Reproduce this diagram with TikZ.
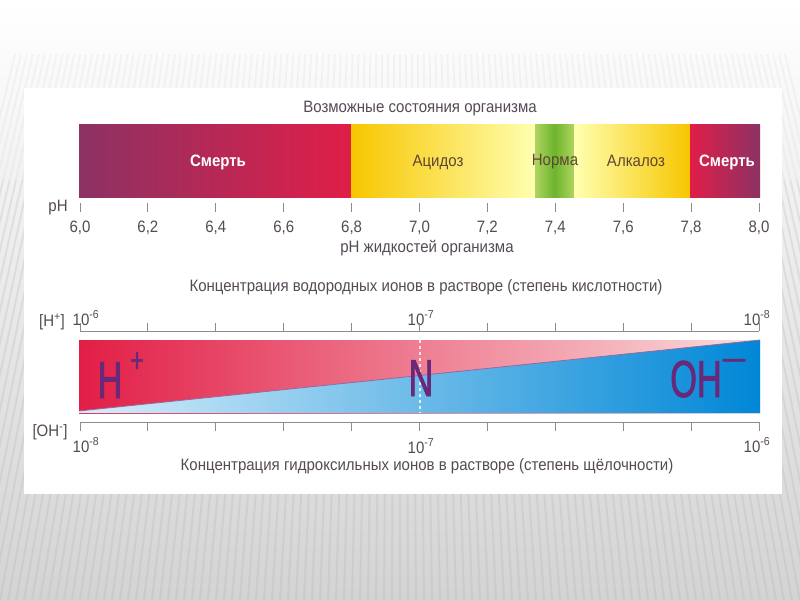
\documentclass[tikz,border=0pt]{standalone}
\usepackage{fontspec}
\setmainfont{Liberation Sans}[FakeStretch=0.91]
\newfontfamily\bigfont{Liberation Sans}[FakeStretch=0.66, FakeBold=1.5]
\usetikzlibrary{calc}

\definecolor{deathpurple}{RGB}{140,50,100}
\definecolor{deathred}{RGB}{224,30,72}
\definecolor{acidyellow}{RGB}{247,198,0}
\definecolor{paleyellow}{RGB}{255,255,176}
\definecolor{normgreen}{RGB}{110,180,45}
\definecolor{normedge}{RGB}{175,212,95}
\definecolor{hred}{RGB}{226,30,70}
\definecolor{hpink}{RGB}{250,222,222}
\definecolor{ohpale}{RGB}{215,238,250}
\definecolor{ohblue}{RGB}{0,135,215}
\definecolor{ionpurple}{RGB}{105,40,120}
\definecolor{labelgrey}{RGB}{85,75,85}
\definecolor{tickgrey}{RGB}{140,140,140}
\definecolor{zonebrown}{RGB}{95,70,50}

\tikzset{
  stripe/.style={draw=black!30, line width=2pt, opacity=0.25},
  tick/.style={draw=tickgrey, line width=0.9pt},
  zone/.style={text=zonebrown, anchor=base},
  death/.style={text=white, anchor=base, font=\fontsize{16.5}{17}\selectfont\bfseries},
  ion/.style={text=ionpurple, font=\bigfont\fontsize{52}{52}\selectfont, anchor=base},
  ionsign/.style={text=ionpurple, font=\bigfont\fontsize{34}{34}\selectfont},
  divider/.style={draw=ionpurple!70, line width=0.8pt}
}

\begin{document}
\begin{tikzpicture}[x=1pt, y=-1pt, every node/.style={font=\fontsize{16.5}{17}\selectfont, text=labelgrey, inner sep=0pt}]
  \useasboundingbox (0,0) rectangle (800,600);
  % slide background
  \shade[top color=white, bottom color=black!17] (0,0) rectangle (800,600);
  \foreach \x in {-120,-112,...,920} {
    \draw[stripe, opacity=0.1] ($(\x,600)!0.2!(400,-1500)$) -- ($(\x,600)!0.26!(400,-1500)$);
    \draw[stripe] (\x,600) -- ($(\x,600)!0.2!(400,-1500)$);
  }
  \fill[white] (24,88) rectangle (782,494);

  % states of the organism
  \node (states) at (420,109) {Возможные состояния организма};
  \shade[left color=deathpurple, right color=deathred] (79,124) rectangle (351,197);
  \shade[left color=acidyellow, right color=paleyellow] (351,124) rectangle (535,197);
  \shade[left color=normedge, right color=normedge, middle color=normgreen] (535,124) rectangle (574,197);
  \shade[left color=paleyellow, right color=acidyellow] (574,124) rectangle (690,197);
  \shade[left color=deathred, right color=deathpurple] (690,124) rectangle (760,197);
  \node[death] (deathlow) at (218,166) {Смерть};
  \node[zone] (acidosis) at (438,166) {Ацидоз};
  \node[zone] (norm) at (555,165) {Норма};
  \node[zone] (alkalosis) at (636,166) {Алкалоз};
  \node[death] (deathhigh) at (727,166) {Смерть};

  % pH scale
  \node (phmark) at (58,208) {pH};
  \foreach \a/\b [count=\i from 0] in {6/0,6/2,6/4,6/6,6/8,7/0,7/2,7/4,7/6,7/8,8/0} {
    \draw[tick] (80+67.9*\i,203) -- ++(0,9);
    \node (ph\i) at (80+67.9*\i,228) {\a,\b};
  }
  \node (phtitle) at (427,248) {pH жидкостей организма};

  % hydrogen ions
  \node (htitle) at (426,287) {Концентрация водородных ионов в растворе (степень кислотности)};
  \node (hmark) at (52,322) {[H\textsuperscript{+}]};
  \node[anchor=base] (hsix) at (86,325) {10\textsuperscript{-6}};
  \node[anchor=base] (hseven) at (421,325) {10\textsuperscript{-7}};
  \node[anchor=base] (height) at (757,325) {10\textsuperscript{-8}};
  \draw[tick] (80,331) -- (759,331);
  \foreach \i in {0,...,10}
    \draw[tick] (80+67.9*\i,331) -- ++(0,-8);

  % H+ / OH- balance
  \shade[left color=hred, right color=hpink] (79,340) rectangle (760,413);
  \shade[left color=ohpale, right color=ohblue] (79,411) -- (760,340) -- (760,413) -- (79,413) -- cycle;
  \draw[divider] (79,411) -- (760,340);
  \draw[white, dashed, line width=1.2pt, opacity=0.8] (420,340) -- (420,413);
  \node[ion] (hion) at (110,398) {H};
  \node[ionsign] (hplus) at (137,362) {+};
  \node[ion] (neutral) at (421,396) {N};
  \node[ion] (ohion) at (696,397) {OH};
  \node[ionsign] (ohminus) at (734,364) {—};

  % hydroxyl ions
  \draw[tick] (80,422) -- (759,422);
  \foreach \i in {0,...,10}
    \draw[tick] (80+67.9*\i,422) -- ++(0,9);
  \node (ohmark) at (50,432) {[OH\textsuperscript{-}]};
  \node[anchor=base] (ohsix) at (86,452) {10\textsuperscript{-8}};
  \node[anchor=base] (ohseven) at (421,453) {10\textsuperscript{-7}};
  \node[anchor=base] (oheight) at (757,452) {10\textsuperscript{-6}};
  \node (ohtitle) at (427,466) {Концентрация гидроксильных ионов в растворе (степень щёлочности)};
\end{tikzpicture}
\end{document}
